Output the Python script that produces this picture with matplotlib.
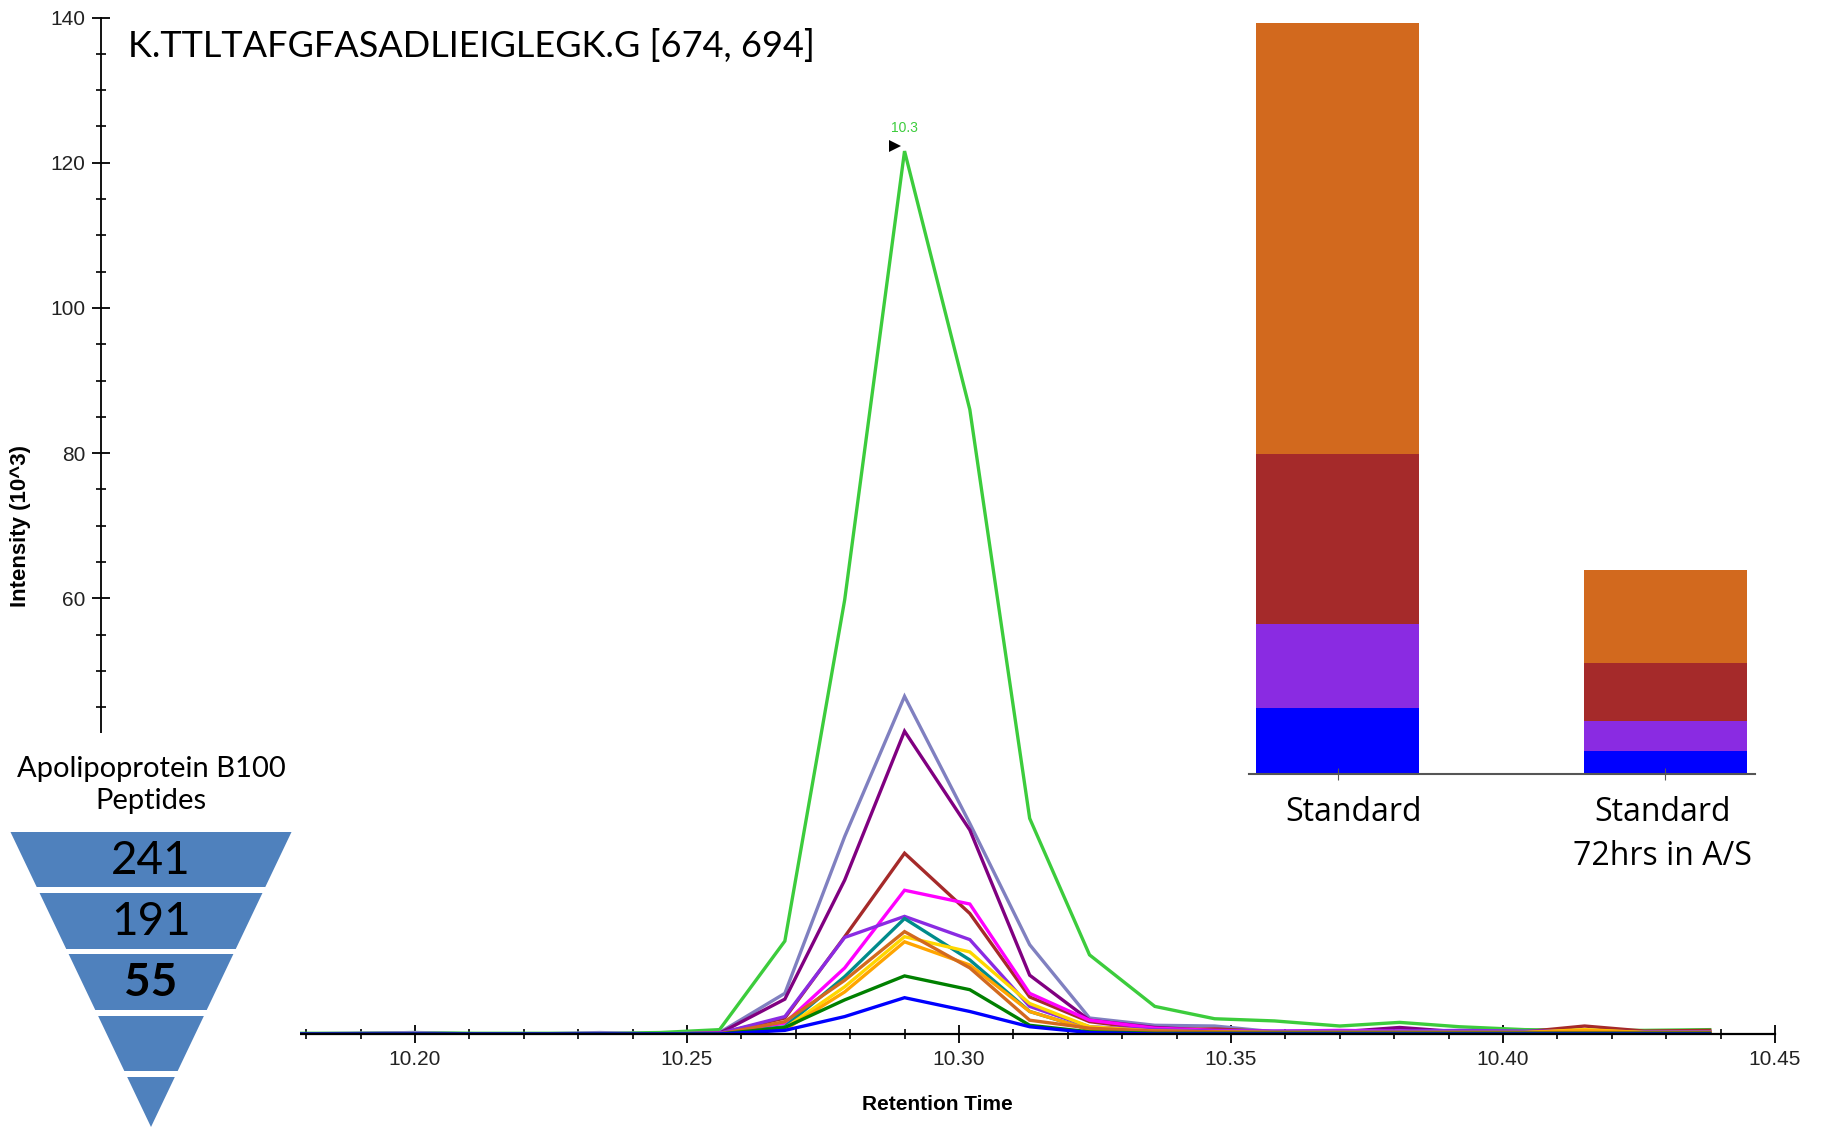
import matplotlib
matplotlib.use("Agg")
import matplotlib.pyplot as plt
import matplotlib.transforms as mtransforms
from matplotlib.patches import Polygon
from matplotlib.ticker import MultipleLocator, FormatStrFormatter

# ---- chromatogram data (intensity in 10^3) ----
rt = [10.177, 10.188, 10.200, 10.211, 10.222, 10.234, 10.245, 10.256,
      10.268, 10.279, 10.290, 10.302, 10.313, 10.324, 10.336, 10.347,
      10.358, 10.370, 10.381, 10.392, 10.404, 10.415, 10.426, 10.438]

lime = [0.1, 0.1, 0.2, 0.1, 0.1, 0.1, 0.2, 0.6, 12.8, 59.8, 121.6, 86.0,
        29.7, 10.9, 3.8, 2.1, 1.8, 1.1, 1.6, 1.0, 0.6, 0.5, 0.5, 0.6]
slate = [0.0, 0.1, 0.2, 0.0, 0.0, 0.2, 0.0, 0.2, 5.6, 27.2, 46.5, 29.0,
         12.3, 2.2, 1.2, 1.1, 0.3, 0.3, 0.4, 0.3, 0.3, 0.2, 0.2, 0.2]
purple = [0.0, 0.0, 0.0, 0.0, 0.0, 0.0, 0.0, 0.1, 4.8, 21.2, 41.7, 28.1,
          8.1, 1.9, 0.9, 0.5, 0.3, 0.3, 0.9, 0.3, 0.2, 0.2, 0.2, 0.2]
brown = [0.0, 0.0, 0.0, 0.0, 0.0, 0.0, 0.0, 0.1, 2.2, 13.4, 24.9, 16.6,
         5.1, 1.7, 0.6, 0.7, 0.3, 0.3, 0.3, 0.3, 0.3, 1.1, 0.4, 0.5]
magenta = [0.0, 0.0, 0.0, 0.0, 0.0, 0.0, 0.0, 0.1, 1.5, 9.1, 19.8, 17.9,
           5.6, 1.9, 0.8, 0.5, 0.4, 0.5, 0.4, 0.3, 0.3, 0.3, 0.3, 0.3]
violet = [0.0, 0.0, 0.0, 0.0, 0.0, 0.0, 0.0, 0.1, 2.4, 13.3, 16.2, 13.0,
          3.8, 1.0, 0.6, 0.4, 0.4, 0.4, 0.4, 0.5, 0.4, 0.4, 0.3, 0.3]
teal = [0.0, 0.0, 0.0, 0.0, 0.0, 0.0, 0.0, 0.0, 1.0, 7.9, 15.9, 10.2,
        3.1, 0.6, 0.3, 0.2, 0.2, 0.2, 0.2, 0.2, 0.2, 0.2, 0.2, 0.2]
gold = [0.0, 0.0, 0.0, 0.0, 0.0, 0.0, 0.0, 0.0, 0.8, 6.5, 13.4, 11.3,
        4.2, 1.0, 0.4, 0.3, 0.2, 0.2, 0.2, 0.2, 0.2, 0.6, 0.2, 0.2]
orange = [0.0, 0.0, 0.0, 0.0, 0.0, 0.0, 0.0, 0.0, 0.6, 5.8, 12.7, 9.5,
          3.1, 0.6, 0.3, 0.2, 0.2, 0.2, 0.2, 0.2, 0.2, 0.5, 0.2, 0.2]
chocolate = [0.0, 0.0, 0.0, 0.0, 0.0, 0.0, 0.0, 0.0, 1.7, 7.4, 14.1, 9.1,
             1.9, 0.8, 0.4, 0.3, 0.2, 0.2, 0.2, 0.2, 0.2, 0.2, 0.2, 0.2]
dkgreen = [0.0, 0.0, 0.0, 0.0, 0.0, 0.0, 0.0, 0.0, 0.9, 4.7, 8.0, 6.1,
           1.2, 0.3, 0.1, 0.1, 0.1, 0.1, 0.1, 0.1, 0.1, 0.1, 0.1, 0.1]
blue = [0.0, 0.0, 0.0, 0.0, 0.0, 0.0, 0.0, 0.0, 0.5, 2.4, 5.0, 3.1,
        1.0, 0.2, 0.0, 0.0, 0.0, 0.0, 0.0, 0.0, 0.0, 0.0, 0.0, 0.0]

series = [(lime, "#3ccc3c"), (slate, "#8080c0"), (purple, "#800080"),
          (brown, "#a52a2a"), (magenta, "#ff00ff"), (violet, "#8a2be2"),
          (teal, "#008b8b"), (gold, "#ffd700"), (orange, "#ffa500"),
          (chocolate, "#d2691e"), (dkgreen, "#008000"), (blue, "#0000ff")]

apex_rt, apex_int = 10.290, 121.6
title = "K.TTLTAFGFASADLIEIGLEGK.G [674, 694]"

# ---- stacked bar inset ----
bar_labels = ["Standard", "Standard\n72hrs in A/S"]
bar_blue = [8.8, 3.1]
bar_violet = [11.1, 4.0]
bar_brown = [22.6, 7.6]
bar_orange = [57.4, 12.4]

# ---- funnel ----
funnel_title = "Apolipoprotein B100\nPeptides"
funnel_counts = ["241", "191", "55"]

W, H = 1825, 1127


def box(x0, y0, x1, y1):
    return [x0 / W, 1 - y1 / H, (x1 - x0) / W, (y1 - y0) / H]


fig = plt.figure(figsize=(W / 100, H / 100), dpi=100)
fig.patch.set_facecolor("white")

ax = fig.add_axes(box(101, 17.5, 1775, 1034))
for vals, col in series:
    ax.plot(rt, vals, color=col, lw=2.4, solid_joinstyle="miter")
ax.plot([apex_rt - 0.0018], [apex_int + 0.7], marker=">", color="black",
        ms=9, mew=0)
ax.text(apex_rt, apex_int + 2.2, "10.3", color="#3ccc3c", fontsize=10,
        ha="center", va="bottom", family="Liberation Sans")

ax.set_xlim(10.1423, 10.45)
ax.set_ylim(0, 140)
ax.spines["top"].set_visible(False)
ax.spines["right"].set_visible(False)
ax.spines["left"].set_linewidth(1.3)
ax.spines["bottom"].set_linewidth(1.6)
ax.xaxis.set_major_locator(MultipleLocator(0.05))
ax.xaxis.set_minor_locator(MultipleLocator(0.01))
ax.xaxis.set_major_formatter(FormatStrFormatter("%.2f"))
ax.yaxis.set_major_locator(MultipleLocator(20))
ax.yaxis.set_minor_locator(MultipleLocator(5))
ax.tick_params(which="major", direction="inout", length=13, width=1.3,
               labelsize=15, pad=5, labelcolor="#222222")
ax.tick_params(which="minor", direction="inout", length=7, width=1.2)
for lab in ax.get_xticklabels() + ax.get_yticklabels():
    lab.set_family("Liberation Sans")

fig.text(21 / W, 1 - 526 / H, "Intensity (10^3)", rotation=90, ha="center",
         va="center", fontsize=16, fontweight="bold", family="Liberation Sans")
fig.text(937 / W, 1 - 1105 / H, "Retention Time", ha="center", va="center",
         fontsize=15, fontweight="bold", family="Liberation Sans")
fig.text(128 / W, 1 - 46 / H, title, ha="left", va="center", fontsize=26,
         family="Lato")

# stacked bar inset
bax = fig.add_axes(box(1249, 22, 1755, 774))
bax.set_zorder(5)
bax.set_facecolor("white")
xs = [0, 1]
bw = 0.497
b0 = [0, 0]
for vals, col in [(bar_blue, "#0000ff"), (bar_violet, "#8a2be2"),
                  (bar_brown, "#a52a2a"), (bar_orange, "#d2691e")]:
    bax.bar(xs, vals, bw, bottom=b0, color=col, linewidth=0)
    b0 = [a + b for a, b in zip(b0, vals)]
bax.set_xlim(-0.27, 1.273)
bax.set_ylim(0, 100)
for s in ["top", "right", "left"]:
    bax.spines[s].set_visible(False)
bax.spines["bottom"].set_color("#555555")
bax.spines["bottom"].set_linewidth(1.5)
bax.set_yticks([])
bax.set_xticks(xs)
bax.set_xticklabels(bar_labels, fontsize=23, family="Open Sans",
                    linespacing=1.45)
bax.tick_params(axis="x", direction="inout", length=8, color="#555555",
                pad=12)
for lab, dx in zip(bax.get_xticklabels(), [16, -3]):
    lab.set_transform(lab.get_transform() + mtransforms.Affine2D().translate(dx, 0))

# funnel overlay (covers lower-left corner of the chromatogram)
fax = fig.add_axes(box(0, 733, 300, 1127))
fax.set_zorder(6)
fax.set_facecolor("white")
fax.set_xlim(0, 300)
fax.set_ylim(1127, 733)
fax.set_xticks([])
fax.set_yticks([])
for s in fax.spines.values():
    s.set_visible(False)

cx, top, apex_y, half_top = 151, 832, 1127, 140.5
bands = [(832, 887), (893, 949), (954, 1010), (1016, 1071), (1077, 1127)]


def hw(y):
    return half_top * (apex_y - y) / (apex_y - top)


for t, b in bands:
    fax.add_patch(Polygon([(cx - hw(t), t), (cx + hw(t), t),
                           (cx + hw(b), b), (cx - hw(b), b)],
                          closed=True, facecolor="#4f81bd", edgecolor="none"))
for i, txt in enumerate(funnel_counts):
    t, b = bands[i]
    fax.text(cx, (t + b) / 2 + 1, txt, ha="center", va="center",
             fontsize=33, family="Lato",
             fontweight="bold" if i == 2 else "normal")
fax.text(cx, 785, funnel_title, ha="center", va="center", fontsize=21,
         family="Lato", linespacing=1.3)

fig.savefig("out.png", dpi=100)
